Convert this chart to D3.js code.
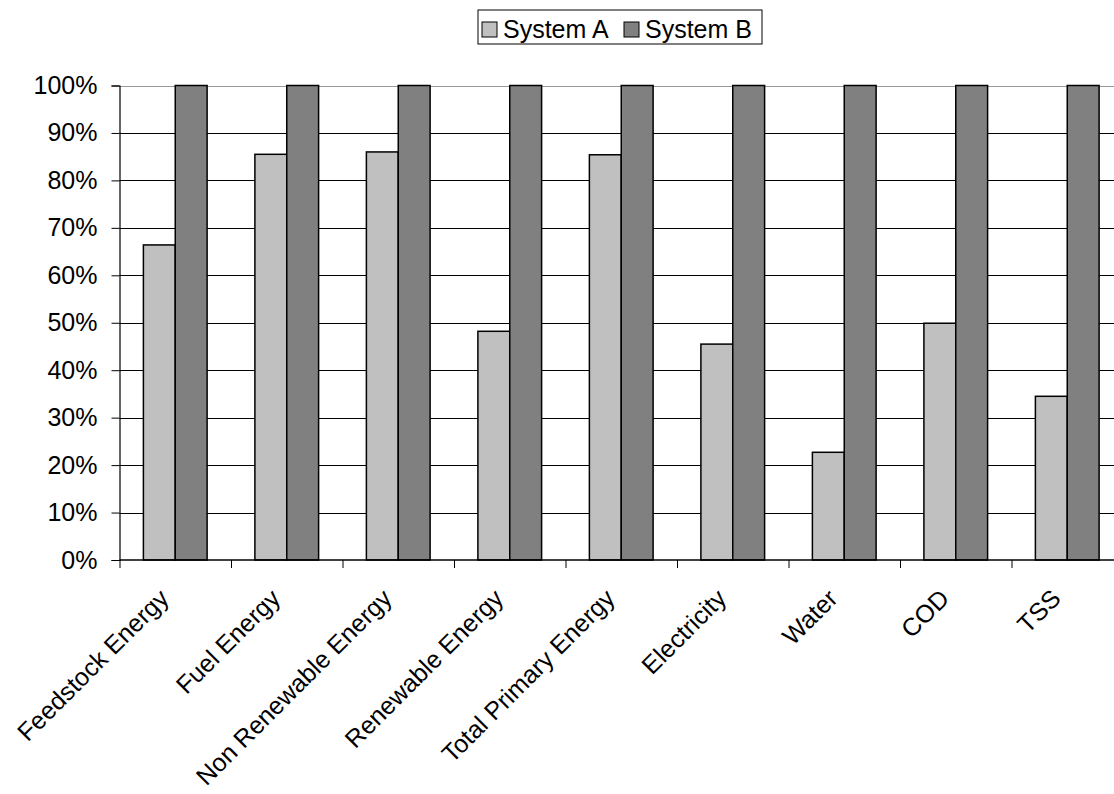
<!DOCTYPE html>
<html>
<head>
<meta charset="utf-8">
<script src="https://cdn.jsdelivr.net/npm/d3@7/dist/d3.min.js"></script>
<style>
  html, body { margin: 0; padding: 0; background: #fff; }
  svg { display: block; font-family: "Liberation Sans", Arial, sans-serif; }
</style>
</head>
<body>
<svg id="chart" width="1114" height="794"></svg>
<script>
// Relative impact of the two systems per indicator (System B = 100%)
const categories = ["Feedstock Energy", "Fuel Energy", "Non Renewable Energy", "Renewable Energy",
                    "Total Primary Energy", "Electricity", "Water", "COD", "TSS"];
const seriesNames = ["System A", "System B"];
const systemA = [0.664, 0.855, 0.860, 0.482, 0.854, 0.455, 0.227, 0.499, 0.345];
const systemB = [1, 1, 1, 1, 1, 1, 1, 1, 1];
const yTicks = [0, 0.1, 0.2, 0.3, 0.4, 0.5, 0.6, 0.7, 0.8, 0.9, 1.0];
const seriesColors = ["#c0c0c0", "#808080"];

const svg = d3.select("#chart");
const plot = { left: 119.5, right: 1123, top: 85.5, bottom: 560 };
const axisFont = 25;
const legendFont = 25;

const x = d3.scaleBand().domain(categories).range([plot.left, plot.right]).paddingInner(0).paddingOuter(0);
const xs = d3.scaleBand().domain(seriesNames).range([0, x.bandwidth()]).paddingInner(0).paddingOuter(0.75);
const y = d3.scaleLinear().domain([0, 1]).range([plot.bottom, plot.top]);

const rows = categories.map((c, i) => ({ cat: c, vals: [systemA[i], systemB[i]] }));

// horizontal gridlines
svg.append("g")
  .selectAll("line")
  .data(yTicks.filter(d => d > 0))
  .join("line")
  .attr("x1", plot.left).attr("x2", plot.right)
  .attr("y1", d => Math.round(y(d)) + 0.5).attr("y2", d => Math.round(y(d)) + 0.5)
  .attr("stroke", d => d === 1 ? "#999" : "#000")
  .attr("stroke-width", 1);

// bars
const groups = svg.append("g")
  .selectAll("g")
  .data(rows)
  .join("g")
  .attr("transform", d => `translate(${x(d.cat)},0)`);

groups.selectAll("rect")
  .data(d => d.vals.map((v, j) => ({ key: seriesNames[j], v, j })))
  .join("rect")
  .attr("x", d => xs(d.key))
  .attr("width", xs.bandwidth())
  .attr("y", d => y(d.v))
  .attr("height", d => y(0) - y(d.v))
  .attr("fill", d => seriesColors[d.j])
  .attr("stroke", "#000")
  .attr("stroke-width", 1.5);

// y axis
const yAxis = d3.axisLeft(y).tickValues(yTicks).tickFormat(d3.format(".0%")).tickSize(8).tickPadding(14);
const yg = svg.append("g").attr("transform", `translate(${plot.left},0)`).call(yAxis);
yg.select(".domain").attr("stroke", "#000").attr("stroke-width", 1.2);
yg.selectAll(".tick line").attr("stroke", "#000");
yg.selectAll("text").attr("font-size", axisFont).attr("fill", "#000")
  .attr("font-family", "'Liberation Sans', Arial, sans-serif");

// x axis: ticks at category boundaries
const xg = svg.append("g");
xg.append("line")
  .attr("x1", plot.left).attr("x2", plot.right)
  .attr("y1", plot.bottom).attr("y2", plot.bottom)
  .attr("stroke", "#000").attr("stroke-width", 1.5);
xg.selectAll("line.tk")
  .data(categories)
  .join("line")
  .attr("class", "tk")
  .attr("x1", d => x(d) + 0.5).attr("x2", d => x(d) + 0.5)
  .attr("y1", plot.bottom).attr("y2", plot.bottom + 8)
  .attr("stroke", "#000");

xg.selectAll("text")
  .data(categories)
  .join("text")
  .attr("transform", d => `translate(${x(d) + x.bandwidth() / 2 - 5},${plot.bottom + 40}) rotate(-45)`)
  .attr("text-anchor", "end")
  .attr("font-size", axisFont)
  .attr("fill", "#000")
  .text(d => d);

// legend
const legend = svg.append("g").attr("transform", "translate(478,10)");
legend.append("rect")
  .attr("x", 0).attr("y", 0).attr("width", 284).attr("height", 34)
  .attr("fill", "#fff").attr("stroke", "#000").attr("stroke-width", 1);
const legendItems = [{ name: seriesNames[0], x: 4 }, { name: seriesNames[1], x: 146 }];
legendItems.forEach((it, j) => {
  legend.append("rect")
    .attr("x", it.x).attr("y", 12).attr("width", 15).attr("height", 15)
    .attr("fill", seriesColors[j]).attr("stroke", "#000").attr("stroke-width", 1);
  legend.append("text")
    .attr("x", it.x + 21).attr("y", 28)
    .attr("font-size", legendFont).attr("fill", "#000")
    .text(it.name);
});
</script>
</body>
</html>
